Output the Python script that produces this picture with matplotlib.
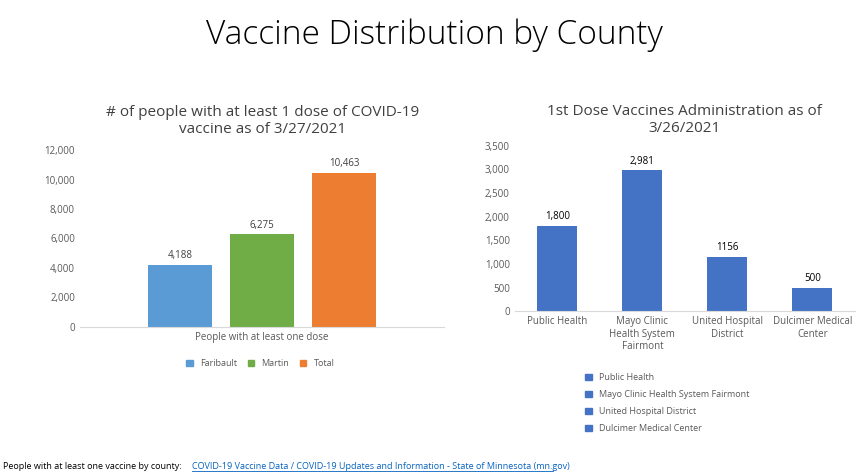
import matplotlib.pyplot as plt
from matplotlib.patches import Patch

left_series = ["Faribault", "Martin", "Total"]
left_values = [4188, 6275, 10463]
left_colors = ["#5B9BD5", "#70AD47", "#ED7D31"]

right_cats = ["Public Health", "Mayo Clinic\nHealth System\nFairmont", "United Hospital\nDistrict", "Dulcimer Medical\nCenter"]
right_names = ["Public Health", "Mayo Clinic Health System Fairmont", "United Hospital District", "Dulcimer Medical Center"]
right_values = [1800, 2981, 1156, 500]
right_labels = ["1,800", "2,981", "1156", "500"]

plt.rcParams['font.family'] = ['Open Sans', 'DejaVu Sans']
fig = plt.figure(figsize=(8.68, 4.75), dpi=100)
fig.text(0.5, 0.925, "Vaccine Distribution by County", ha='center', va='center', fontsize=24, fontweight='light')

# left chart
ax1 = fig.add_axes([0.092, 0.312, 0.42, 0.372])
xs = [-1, 0, 1]
for x, v, c in zip(xs, left_values, left_colors):
    ax1.bar(x, v, width=0.78, color=c)
    ax1.text(x, v + 250, f"{v:,}", ha='center', va='bottom', fontsize=7, color='#404040')
ax1.set_xlim(-2.22, 2.22)
ax1.set_ylim(0, 12000)
ax1.set_yticks(range(0, 12001, 2000))
ax1.set_yticklabels([f"{t:,}" for t in range(0, 12001, 2000)], fontsize=7, color='#595959')
ax1.set_xticks([0])
ax1.set_xticklabels(["People with at least one dose"], fontsize=7, color='#595959')
ax1.tick_params(length=0)
for s in ['top', 'right', 'left']:
    ax1.spines[s].set_visible(False)
ax1.spines['bottom'].set_color('#d9d9d9')
ax1.set_title("# of people with at least 1 dose of COVID-19\nvaccine as of 3/27/2021", fontsize=11, color='#404040', pad=12)
fig.legend(handles=[Patch(color=c, label=n) for n, c in zip(left_series, left_colors)],
           loc='center', bbox_to_anchor=(0.3, 0.235), ncol=3, frameon=False, fontsize=6.5,
           handlelength=0.7, handleheight=0.7, columnspacing=1.2, labelcolor='#595959')

# right chart
ax2 = fig.add_axes([0.593, 0.345, 0.392, 0.348])
rx = range(len(right_values))
ax2.bar(rx, right_values, width=0.47, color="#4472C4")
for x, v, l in zip(rx, right_values, right_labels):
    ax2.text(x, v + 80, l, ha='center', va='bottom', fontsize=7, color='black')
ax2.set_xlim(-0.5, 3.5)
ax2.set_ylim(0, 3500)
ax2.set_yticks(range(0, 3501, 500))
ax2.set_yticklabels([f"{t:,}" for t in range(0, 3501, 500)], fontsize=7, color='#595959')
ax2.set_xticks(list(rx))
ax2.set_xticklabels(right_cats, fontsize=7, color='#595959')
ax2.tick_params(length=0)
for s in ['top', 'right', 'left']:
    ax2.spines[s].set_visible(False)
ax2.spines['bottom'].set_color('#d9d9d9')
ax2.set_title("1st Dose Vaccines Administration as of\n3/26/2021", fontsize=11, color='#404040', pad=10)
fig.legend(handles=[Patch(color="#4472C4", label=n) for n in right_names],
           loc='upper left', bbox_to_anchor=(0.665, 0.232), ncol=1, frameon=False, fontsize=6.5,
           handlelength=0.7, handleheight=0.7, labelspacing=0.9, labelcolor='#595959')

fig.text(0.004, 0.013, "People with at least one vaccine by county:", fontsize=6.5, color='black')
fig.text(0.221, 0.013, "COVID-19 Vaccine Data / COVID-19 Updates and Information - State of Minnesota (mn.gov)",
         fontsize=6.5, color='#0563C1')
fig.add_artist(plt.Line2D([0.221, 0.637], [0.009, 0.009], color='#0563C1', lw=0.6))

fig.savefig("out.png", dpi=100)
